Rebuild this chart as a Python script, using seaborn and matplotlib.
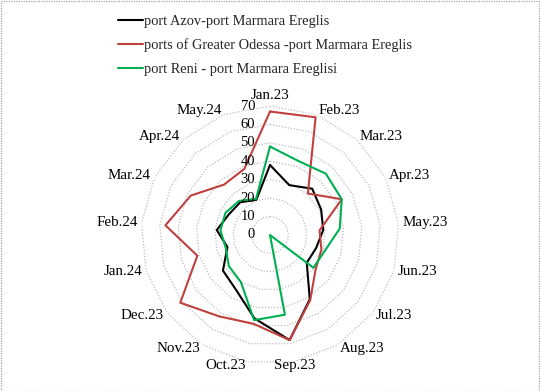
import numpy as np
import pandas as pd
import matplotlib
matplotlib.use("Agg")
import matplotlib.pyplot as plt
import seaborn as sns
from matplotlib.transforms import offset_copy
from matplotlib.patches import Rectangle
from matplotlib.lines import Line2D

categories = ["Jan.23", "Feb.23", "Mar.23", "Apr.23", "May.23", "Jun.23", "Jul.23",
              "Aug.23", "Sep.23", "Oct.23", "Nov.23", "Dec.23", "Jan.24", "Feb.24",
              "Mar.24", "Apr.24", "May.24"]
azov = [38, 29, 34, 31, 29, 26, 25, 41, 58, 46, 35, 32, 24, 29, 25, 24, 20.5]
odessa = [67, 68.5, 30.5, 43.5, 27, 29, 31, 41.5, 58, 49, 52, 61, 41, 57, 48, 37, 38.5]
reni = [48, 43, 45, 43.5, 38, 31, 29.5, 0, 44, 47, 30, 28, 25, 27, 27, 25, 21]
series_names = ["port Azov-port Marmara Ereglis",
                "ports of Greater Odessa -port Marmara Ereglis",
                "port Reni - port Marmara Ereglisi"]
series_colors = ["#000000", "#C0403E", "#00B050"]
radial_ticks = [0, 10, 20, 30, 40, 50, 60, 70]

sns.set_theme(style="white")
plt.rcParams["font.family"] = ["Liberation Serif", "DejaVu Serif"]

n = len(categories)
theta = np.linspace(0, 2 * np.pi, n, endpoint=False)
rows = []
for name, vals in zip(series_names, [azov, odessa, reni]):
    for i in range(n + 1):
        rows.append({"series": name,
                     "theta": theta[i] if i < n else 2 * np.pi,
                     "value": vals[i % n]})
df = pd.DataFrame(rows)

fig = plt.figure(figsize=(5.4, 3.91), dpi=100)
ax = fig.add_axes([(270 - 129) / 540, 27 / 391, 258 / 540, 258 / 391], projection="polar")
ax.set_theta_zero_location("N")
ax.set_theta_direction(-1)
ax.set_ylim(0, 70)
ax.grid(False)
ax.spines["polar"].set_visible(False)
ax.set_xticks([])
ax.set_yticks([])
ax.patch.set_alpha(0)

closed = np.append(theta, theta[0])
for r in radial_ticks[1:]:
    ax.plot(closed, [r] * (n + 1), color="#BDBDBD", lw=0.9, ls=(0, (1, 1.4)), zorder=1)

sns.lineplot(data=df, x="theta", y="value", hue="series", hue_order=series_names,
             palette=series_colors, sort=False, estimator=None, ax=ax,
             legend=False, lw=1.5, zorder=3)
ax.set_xlabel("")
ax.set_ylabel("")
ax.set_ylim(0, 70)

for ang, lab in zip(theta, categories):
    s, c = np.sin(ang), np.cos(ang)
    if s > 0.25:
        ha, va = "left", "center"
    elif s < -0.1:
        ha, va = "right", "center"
    else:
        ha = "center"
        va = "bottom" if c > 0 else "center"
    ax.text(ang, 72.2, lab, ha=ha, va=va, fontsize=10.8, color="black")

trans = offset_copy(ax.transData, fig=fig, x=-15, y=0, units="dots")
for r in radial_ticks:
    ax.text(0, r, str(r), transform=trans, ha="right", va="center", fontsize=10.5, color="black")

handles = [Line2D([0], [0], color=col, lw=1.5) for col in series_colors]
fig.legend(handles, series_names, loc="upper left", bbox_to_anchor=(118 / 540, 1 - 15 / 391),
           frameon=False, fontsize=10.4, handlelength=1.7, handletextpad=0.1,
           labelspacing=0.72, borderpad=0, borderaxespad=0)

fig.add_artist(Rectangle((0.5 / 540, 0.5 / 391), 1 - 1.5 / 540, 1 - 1.5 / 391,
                         transform=fig.transFigure, fill=False, ec="#A0A0A0",
                         ls=(0, (1, 1)), lw=0.9))

fig.savefig("out.png", dpi=100)
